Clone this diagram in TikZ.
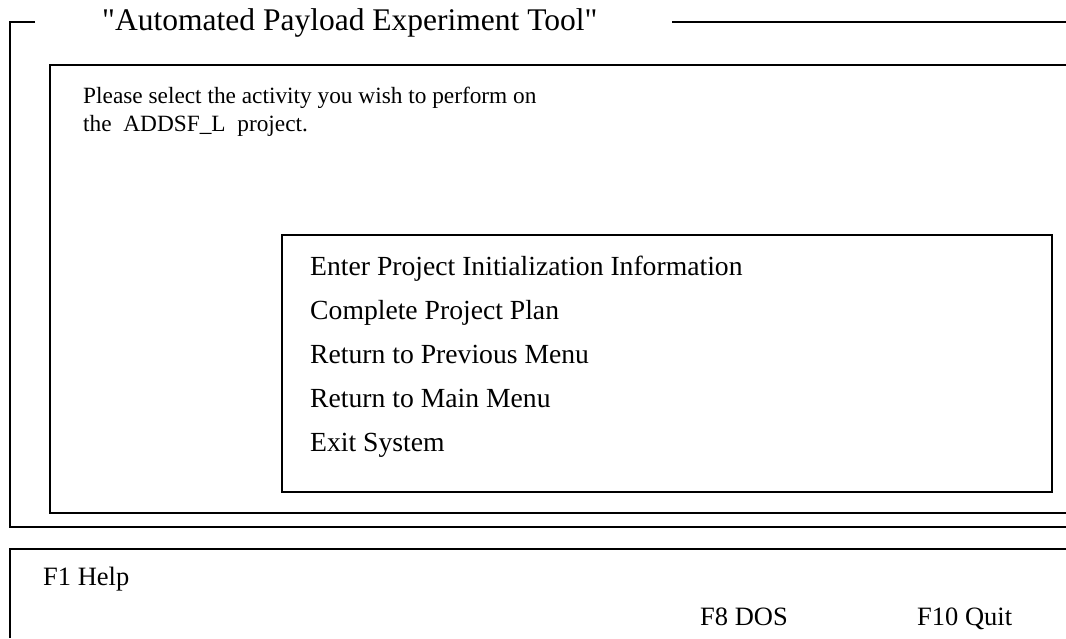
\documentclass[tikz,border=0pt]{standalone}
\usepackage{fontspec}
\setmainfont{Liberation Serif}[Ligatures=TeXOff]
\usetikzlibrary{positioning}

\begin{document}
\begin{tikzpicture}[x=0.03cm, y=-0.03cm,
    frame/.style={line width=1.2pt},
    menubox/.style={line width=1pt},
    wintitle/.style={font=\fontsize{26.9}{30}\selectfont, anchor=base west, inner sep=0pt},
    prompt/.style={font=\fontsize{19.9}{24}\selectfont, anchor=base west, inner sep=0pt},
    item/.style={font=\fontsize{23.6}{27}\selectfont, anchor=base west, inner sep=0pt},
    fkey/.style={font=\fontsize{22.6}{26}\selectfont, anchor=base west, inner sep=0pt}]
    \useasboundingbox (0,0) rectangle (1066,638);

    % window frames
    \draw[frame] (35,22) -- (10,22) -- (10,527) -- (1066,527);
    \draw[frame] (672,22) -- (1066,22);
    \draw[frame] (1066,65) -- (50,65) -- (50,513) -- (1066,513);
    \draw[menubox] (282,235) rectangle (1052,492);
    \draw[frame] (10,638) -- (10,549) -- (1066,549);

    \node[wintitle] (ttl) at (102,30) {"Automated Payload Experiment Tool"};

    \node[prompt] (p1) at (83,103) {Please select the activity you wish to perform on};
    \node[prompt, below=0.84cm of p1.base west, anchor=base west] (p2) {the\ \ ADDSF\_L\ \ project.};

    % menu
    \node[item] (m1) at (310,275) {Enter Project Initialization Information};
    \node[item, below=1.32cm of m1.base west, anchor=base west] (m2) {Complete Project Plan};
    \node[item, below=1.32cm of m2.base west, anchor=base west] (m3) {Return to Previous Menu};
    \node[item, below=1.32cm of m3.base west, anchor=base west] (m4) {Return to Main Menu};
    \node[item, below=1.32cm of m4.base west, anchor=base west] (m5) {Exit System};

    % function keys
    \node[fkey] (f1) at (43,585) {F1 Help};
    \node[fkey] (f8) at (700,625) {F8 DOS};
    \node[fkey] (f10) at (917,625) {F10 Quit};
\end{tikzpicture}
\end{document}
